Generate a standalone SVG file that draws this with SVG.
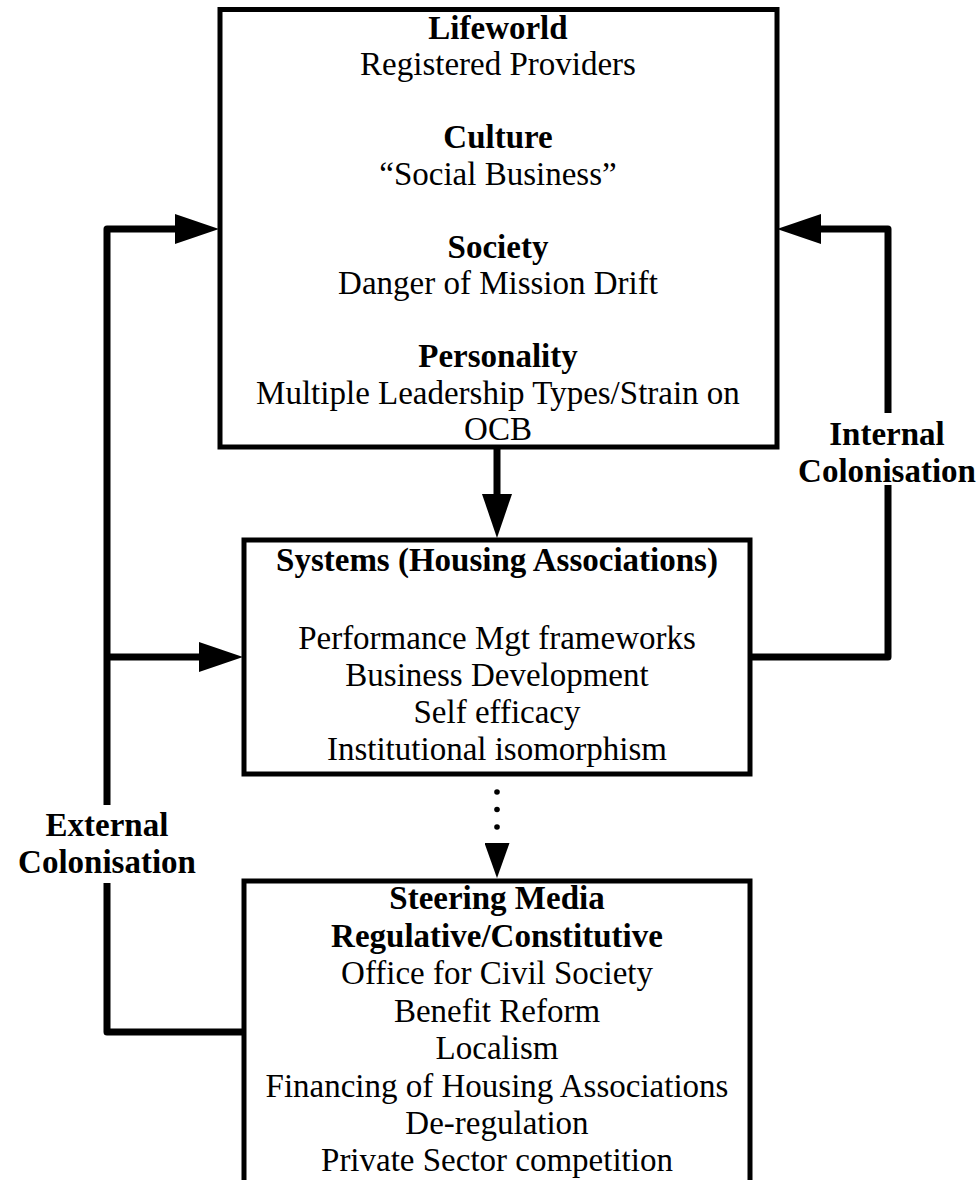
<svg xmlns="http://www.w3.org/2000/svg" width="980" height="1180" viewBox="0 0 980 1180">
<defs>
<style>
.box{fill:#fff;stroke:#000;stroke-width:5}
.t{font-family:"Liberation Serif","Times New Roman",serif;font-size:33px;fill:#000;text-anchor:middle}
.b{font-weight:bold}
.lbl{font-family:"Liberation Serif","Times New Roman",serif;font-size:33px;font-weight:bold;fill:#000;text-anchor:middle}
.c{fill:none;stroke:#000;stroke-width:7;stroke-linejoin:round;stroke-linecap:butt}
</style>
<marker id="ah" viewBox="0 0 44 30" refX="0" refY="15" markerWidth="44" markerHeight="30" markerUnits="userSpaceOnUse" orient="auto">
<path d="M0,0 L44,15 L0,30 Z" fill="#000"/>
</marker>
<marker id="ahs" viewBox="0 0 35 25" refX="0" refY="12.5" markerWidth="35" markerHeight="25" markerUnits="userSpaceOnUse" orient="auto">
<path d="M0,0 L35,12.5 L0,25 Z" fill="#000"/>
</marker>
</defs>
<rect width="980" height="1180" fill="#fff"/>

<g id="connectors">
<path class="c" d="M497,447 V494" marker-end="url(#ah)"/>
<path class="c" d="M107,805 V229 H175" marker-end="url(#ah)"/>
<path class="c" d="M107,657 H199" marker-end="url(#ah)"/>
<path class="c" d="M243,1032 H107 V883"/>
<path class="c" d="M750,657 H888 V485"/>
<path class="c" d="M888,413 V229 H821" marker-end="url(#ah)"/>
<g fill="#000">
<circle cx="497" cy="792" r="2.8"/>
<circle cx="497" cy="809.5" r="2.8"/>
<circle cx="497" cy="827" r="2.8"/>
</g>
<path d="M497,843 V843.1" stroke="#000" stroke-width="1" marker-end="url(#ahs)"/>
</g>

<g id="lifeworld">
<rect class="box" x="220" y="9.5" width="557" height="437.5"/>
<text class="t b" x="498" y="38.5">Lifeworld</text>
<text class="t" x="498" y="75">Registered Providers</text>
<text class="t b" x="498" y="148">Culture</text>
<text class="t" x="498" y="184.5">“Social Business”</text>
<text class="t b" x="498" y="257.5">Society</text>
<text class="t" x="498" y="294">Danger of Mission Drift</text>
<text class="t b" x="498" y="367">Personality</text>
<text class="t" x="498" y="403.5">Multiple Leadership Types/Strain on</text>
<text class="t" x="498" y="440">OCB</text>
</g>

<g id="systems">
<rect class="box" x="244" y="540" width="506" height="234"/>
<text class="t b" x="497" y="571">Systems (Housing Associations)</text>
<text class="t" x="497" y="649">Performance Mgt frameworks</text>
<text class="t" x="497" y="686">Business Development</text>
<text class="t" x="497" y="723">Self efficacy</text>
<text class="t" x="497" y="760">Institutional isomorphism</text>
</g>

<g id="steering">
<rect class="box" x="244" y="881" width="506" height="330"/>
<text class="t b" x="497" y="909">Steering Media</text>
<text class="t b" x="497" y="947">Regulative/Constitutive</text>
<text class="t" x="497" y="984">Office for Civil Society</text>
<text class="t" x="497" y="1022">Benefit Reform</text>
<text class="t" x="497" y="1059">Localism</text>
<text class="t" x="497" y="1097">Financing of Housing Associations</text>
<text class="t" x="497" y="1134">De-regulation</text>
<text class="t" x="497" y="1171">Private Sector competition</text>
</g>

<g id="internal-label">
<text class="lbl" x="887" y="445">Internal</text>
<text class="lbl" x="887" y="482">Colonisation</text>
</g>
<g id="external-label">
<text class="lbl" x="107" y="836">External</text>
<text class="lbl" x="107" y="873">Colonisation</text>
</g>
</svg>
